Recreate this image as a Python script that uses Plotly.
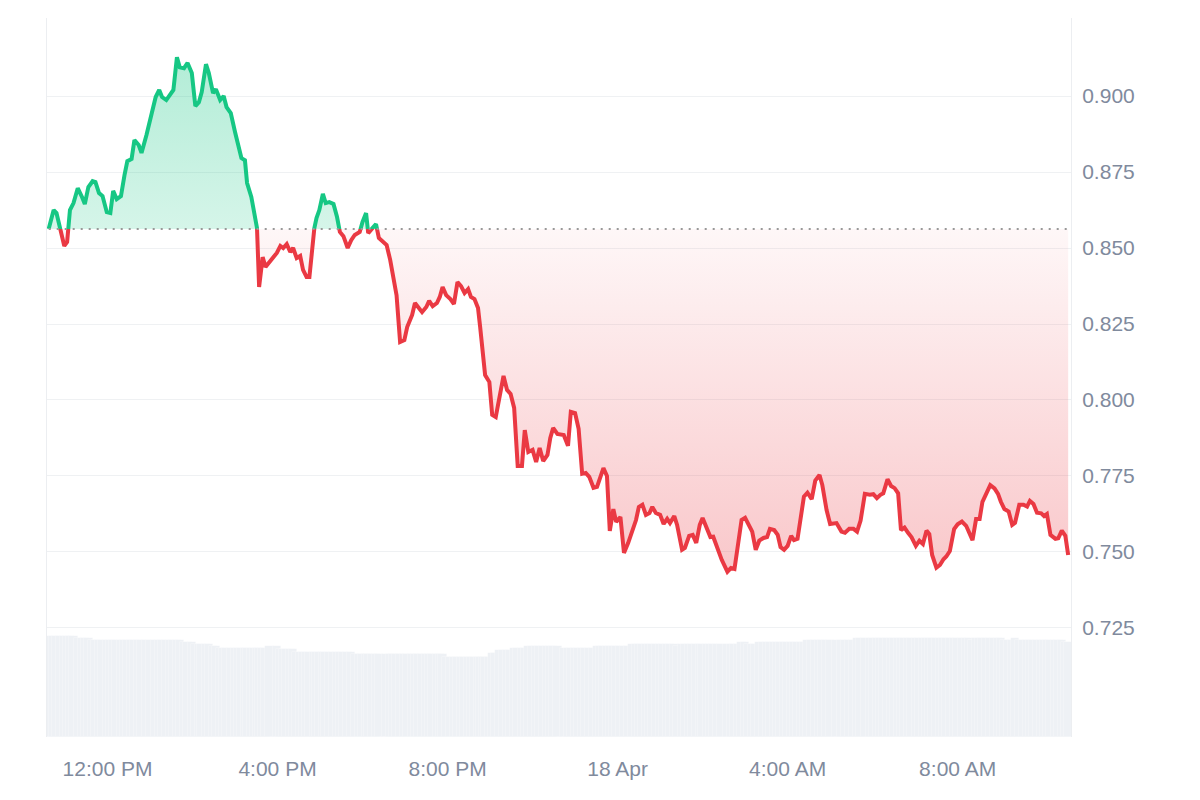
import pandas as pd
import plotly.graph_objects as go

START = pd.Timestamp("2025-04-17 10:30")

# minutes after START for every price sample
minutes = [
    7, 14, 18, 23, 29, 33, 37, 42, 48, 54,
    58, 63, 69, 73, 78, 83, 89, 94, 98, 103,
    109, 114, 118, 124, 128, 134, 138, 145, 151, 158,
    163, 167, 173, 178, 183, 188, 192, 198, 203, 209,
    214, 219, 223, 229, 233, 239, 243, 249, 254, 258,
    264, 270, 275, 279, 284, 287, 293, 297, 301, 304,
    309, 313, 319, 329, 334, 338, 343, 348, 352, 357,
    362, 366, 371, 375, 382, 385, 389, 394, 398, 403,
    409, 414, 418, 423, 429, 434, 439, 446, 450, 455,
    458, 464, 469, 473, 484, 489, 494, 498, 503, 509,
    513, 520, 524, 529, 534, 540, 544, 549, 555, 559,
    563, 568, 574, 579, 584, 589, 594, 599, 603, 608,
    613, 616, 620, 623, 629, 633, 638, 643, 649, 654,
    659, 664, 669, 675, 679, 684, 690, 695, 700, 705,
    711, 715, 719, 725, 734, 740, 744, 750, 755, 760,
    765, 770, 776, 781, 785, 790, 795, 799, 804, 808,
    814, 819, 825, 831, 836, 840, 845, 850, 855, 859,
    864, 870, 875, 880, 884, 890, 894, 901, 905, 911,
    916, 921, 926, 930, 936, 941, 945, 951, 957, 965,
    970, 975, 981, 985, 990, 995, 1000, 1005, 1010, 1016,
    1021, 1025, 1031, 1036, 1040, 1045, 1050, 1055, 1059, 1064,
    1069, 1073, 1078, 1084, 1089, 1095, 1099, 1105, 1110, 1119,
    1126, 1131, 1137, 1143, 1148, 1153, 1159, 1166, 1171, 1176,
    1181, 1185, 1191, 1196, 1201, 1206, 1210, 1215, 1220, 1225,
    1231, 1236, 1241, 1246, 1250, 1254, 1260, 1265, 1270, 1274,
    1279, 1285, 1290, 1296, 1302, 1307, 1311, 1316, 1321, 1325,
    1330, 1336, 1342, 1347, 1351, 1356, 1362, 1367, 1371, 1377,
    1383, 1388, 1392, 1397, 1402, 1408, 1412, 1416, 1421, 1428,
    1432, 1437, 1442, 1446,
]

prices = [
    0.8563, 0.8625, 0.8615, 0.8569, 0.8507, 0.8520, 0.8625, 0.8648, 0.8697, 0.8668,
    0.8645, 0.8701, 0.8720, 0.8717, 0.8681, 0.8671, 0.8618, 0.8615, 0.8688, 0.8661,
    0.8671, 0.8740, 0.8786, 0.8793, 0.8855, 0.8839, 0.8813, 0.8872, 0.8931, 0.8997,
    0.9020, 0.8997, 0.8987, 0.9003, 0.9020, 0.9128, 0.9095, 0.9092, 0.9109, 0.9076,
    0.8967, 0.8980, 0.9013, 0.9105, 0.9076, 0.9010, 0.9023, 0.8987, 0.9000, 0.8964,
    0.8944, 0.8882, 0.8829, 0.8796, 0.8789, 0.8714, 0.8668, 0.8615, 0.8566, 0.8372,
    0.8470, 0.8438, 0.8454, 0.8484, 0.8507, 0.8500, 0.8513, 0.8487, 0.8500, 0.8467,
    0.8474, 0.8428, 0.8405, 0.8405, 0.8566, 0.8599, 0.8625, 0.8678, 0.8648, 0.8651,
    0.8645, 0.8602, 0.8553, 0.8539, 0.8500, 0.8526, 0.8543, 0.8553, 0.8586, 0.8615,
    0.8549, 0.8566, 0.8579, 0.8533, 0.8510, 0.8461, 0.8395, 0.8345, 0.8191, 0.8197,
    0.8240, 0.8280, 0.8319, 0.8303, 0.8289, 0.8306, 0.8326, 0.8309, 0.8319, 0.8339,
    0.8372, 0.8345, 0.8332, 0.8316, 0.8388, 0.8375, 0.8352, 0.8365, 0.8339, 0.8332,
    0.8303, 0.8240, 0.8155, 0.8082, 0.8059, 0.7951, 0.7944, 0.8000, 0.8079, 0.8033,
    0.8020, 0.7974, 0.7783, 0.7783, 0.7901, 0.7829, 0.7836, 0.7796, 0.7842, 0.7799,
    0.7819, 0.7875, 0.7908, 0.7888, 0.7885, 0.7849, 0.7961, 0.7957, 0.7905, 0.7757,
    0.7760, 0.7747, 0.7711, 0.7714, 0.7743, 0.7776, 0.7750, 0.7569, 0.7641, 0.7599,
    0.7615, 0.7497, 0.7530, 0.7572, 0.7605, 0.7648, 0.7655, 0.7622, 0.7628, 0.7648,
    0.7628, 0.7622, 0.7592, 0.7609, 0.7595, 0.7618, 0.7589, 0.7507, 0.7513, 0.7553,
    0.7556, 0.7530, 0.7589, 0.7612, 0.7579, 0.7549, 0.7550, 0.7507, 0.7474, 0.7435,
    0.7447, 0.7444, 0.7539, 0.7605, 0.7612, 0.7592, 0.7567, 0.7507, 0.7537, 0.7546,
    0.7549, 0.7576, 0.7572, 0.7556, 0.7516, 0.7507, 0.7520, 0.7553, 0.7539, 0.7543,
    0.7616, 0.7682, 0.7695, 0.7674, 0.7735, 0.7753, 0.7720, 0.7638, 0.7592, 0.7595,
    0.7567, 0.7563, 0.7576, 0.7576, 0.7567, 0.7603, 0.7691, 0.7688, 0.7690, 0.7677,
    0.7688, 0.7693, 0.7739, 0.7717, 0.7710, 0.7693, 0.7572, 0.7580, 0.7563, 0.7548,
    0.7520, 0.7537, 0.7526, 0.7570, 0.7559, 0.7490, 0.7448, 0.7457, 0.7476, 0.7485,
    0.7503, 0.7575, 0.7591, 0.7600, 0.7586, 0.7559, 0.7539, 0.7608, 0.7608, 0.7665,
    0.7693, 0.7720, 0.7709, 0.7691, 0.7665, 0.7641, 0.7633, 0.7589, 0.7596, 0.7655,
    0.7655, 0.7649, 0.7668, 0.7658, 0.7629, 0.7627, 0.7618, 0.7625, 0.7556, 0.7543,
    0.7545, 0.7570, 0.7553, 0.7490,
]

# relative volume (arbitrary units)
volume = [
    101, 101, 101, 101, 101, 101, 101, 101, 99, 99,
    99, 99, 97, 97, 97, 97, 97, 97, 97, 97,
    97, 97, 97, 97, 97, 97, 97, 97, 97, 97,
    97, 97, 97, 97, 97, 97, 97, 95, 95, 95,
    93, 93, 93, 93, 93, 91, 91, 89, 89, 89,
    89, 89, 89, 89, 89, 89, 89, 89, 89, 89,
    89, 89, 91, 91, 88, 88, 88, 88, 88, 85,
    85, 85, 85, 85, 85, 85, 85, 85, 85, 85,
    85, 85, 85, 85, 85, 85, 83, 83, 83, 83,
    83, 83, 83, 83, 83, 83, 83, 83, 83, 83,
    83, 83, 83, 83, 83, 83, 83, 83, 83, 83,
    83, 80, 80, 80, 80, 80, 80, 80, 80, 80,
    80, 80, 80, 80, 80, 84, 84, 87, 87, 87,
    87, 89, 89, 89, 89, 91, 91, 91, 91, 91,
    91, 91, 91, 91, 89, 89, 89, 89, 89, 89,
    89, 89, 89, 91, 91, 91, 91, 91, 91, 91,
    91, 91, 91, 93, 93, 93, 93, 93, 93, 93,
    93, 93, 93, 93, 93, 93, 91, 93, 93, 93,
    93, 93, 93, 93, 93, 93, 93, 93, 93, 93,
    93, 93, 93, 95, 95, 93, 93, 93, 95, 95,
    95, 95, 95, 95, 95, 95, 95, 95, 95, 95,
    95, 95, 97, 97, 97, 97, 97, 97, 97, 97,
    97, 97, 97, 97, 99, 99, 99, 99, 99, 99,
    99, 99, 99, 99, 99, 99, 99, 99, 99, 99,
    99, 99, 99, 99, 99, 99, 99, 99, 99, 99,
    99, 99, 99, 99, 99, 99, 97, 99, 99, 99,
    99, 99, 99, 99, 99, 97, 97, 97, 99, 97,
    97, 97, 97, 97, 97, 97, 97, 97, 97, 97,
    97, 97, 95, 95,
]

x_tick_vals = ["2025-04-17 12:00", "2025-04-17 16:00", "2025-04-17 20:00",
               "2025-04-18 00:00", "2025-04-18 04:00", "2025-04-18 08:00"]
x_tick_text = ["12:00 PM", "4:00 PM", "8:00 PM", "18 Apr", "4:00 AM", "8:00 AM"]
y_tick_vals = [0.725, 0.750, 0.775, 0.800, 0.825, 0.850, 0.875, 0.900]
y_tick_text = ["0.725", "0.750", "0.775", "0.800", "0.825", "0.850", "0.875", "0.900"]

times = [START + pd.Timedelta(minutes=m) for m in minutes]
base = prices[0]
lo, hi = 0.6891, 0.9257
frac = (base - lo) / (hi - lo)

GREEN = "#16c784"
RED = "#ea3943"
LABEL = "#808a9d"

fig = go.Figure()

# volume bars (background)
fig.add_trace(go.Bar(
    x=times, y=volume, yaxis="y4",
    marker=dict(color="#eef1f5", line=dict(width=0.6, color="rgba(255,255,255,0.5)")),
    width=12 * 60 * 1000, hoverinfo="skip", showlegend=False,
))

# green part (above baseline), clipped by its own subplot area
fig.add_trace(go.Scatter(
    x=times, y=prices, yaxis="y2", mode="lines",
    line=dict(color=GREEN, width=4),
    fill="tozeroy",
    fillgradient=dict(type="vertical",
                      colorscale=[[0, "rgba(22,199,132,0.18)"], [1, "rgba(22,199,132,0.33)"]],
                      start=base, stop=max(prices)),
    showlegend=False,
))

# red part (below baseline)
fig.add_trace(go.Scatter(
    x=times, y=[base] * len(times), yaxis="y3", mode="lines",
    line=dict(width=0, color="rgba(0,0,0,0)"), hoverinfo="skip", showlegend=False,
))
fig.add_trace(go.Scatter(
    x=times, y=prices, yaxis="y3", mode="lines",
    line=dict(color=RED, width=4),
    fill="tonexty",
    fillgradient=dict(type="vertical",
                      colorscale=[[0, "rgba(234,57,67,0.28)"], [1, "rgba(234,57,67,0.04)"]],
                      start=min(prices), stop=base),
    showlegend=False,
))

fig.add_shape(type="line", xref="x", yref="y",
              x0=times[0], x1=times[-1], y0=base, y1=base,
              line=dict(color="#999999", width=2, dash="2px,6px"), layer="above")

# the page body has an 8px default margin, so margins are offset by it
fig.update_layout(
    width=1200, height=800,
    margin=dict(l=39, r=137, t=10, b=71),
    paper_bgcolor="white", plot_bgcolor="rgba(0,0,0,0)",
    showlegend=False, bargap=0,
    font=dict(family="Liberation Sans, Arial, sans-serif", color=LABEL, size=21),
    xaxis=dict(
        type="date", anchor="y",
        range=[START + pd.Timedelta(minutes=4.6), START + pd.Timedelta(minutes=1450)],
        tickvals=x_tick_vals, ticktext=x_tick_text,
        showgrid=False, zeroline=False, showline=False, ticks="",
        ticklabelstandoff=17,
        tickfont=dict(size=21, color=LABEL),
    ),
    yaxis=dict(
        domain=[0, 1], range=[lo, hi], side="right",
        tickvals=y_tick_vals, ticktext=y_tick_text,
        showgrid=True, gridcolor="#eff1f3", gridwidth=1,
        showline=True, mirror=True, linecolor="#eceef1", linewidth=1,
        zeroline=False, ticks="", ticklabelstandoff=6,
        tickfont=dict(size=21, color=LABEL),
    ),
    yaxis2=dict(domain=[frac, 1], range=[base, hi], visible=False, anchor="x"),
    yaxis3=dict(domain=[0, frac], range=[lo, base], visible=False, anchor="x"),
    yaxis4=dict(overlaying="y", range=[0, 719], visible=False),
)

fig.write_html("out.html")
